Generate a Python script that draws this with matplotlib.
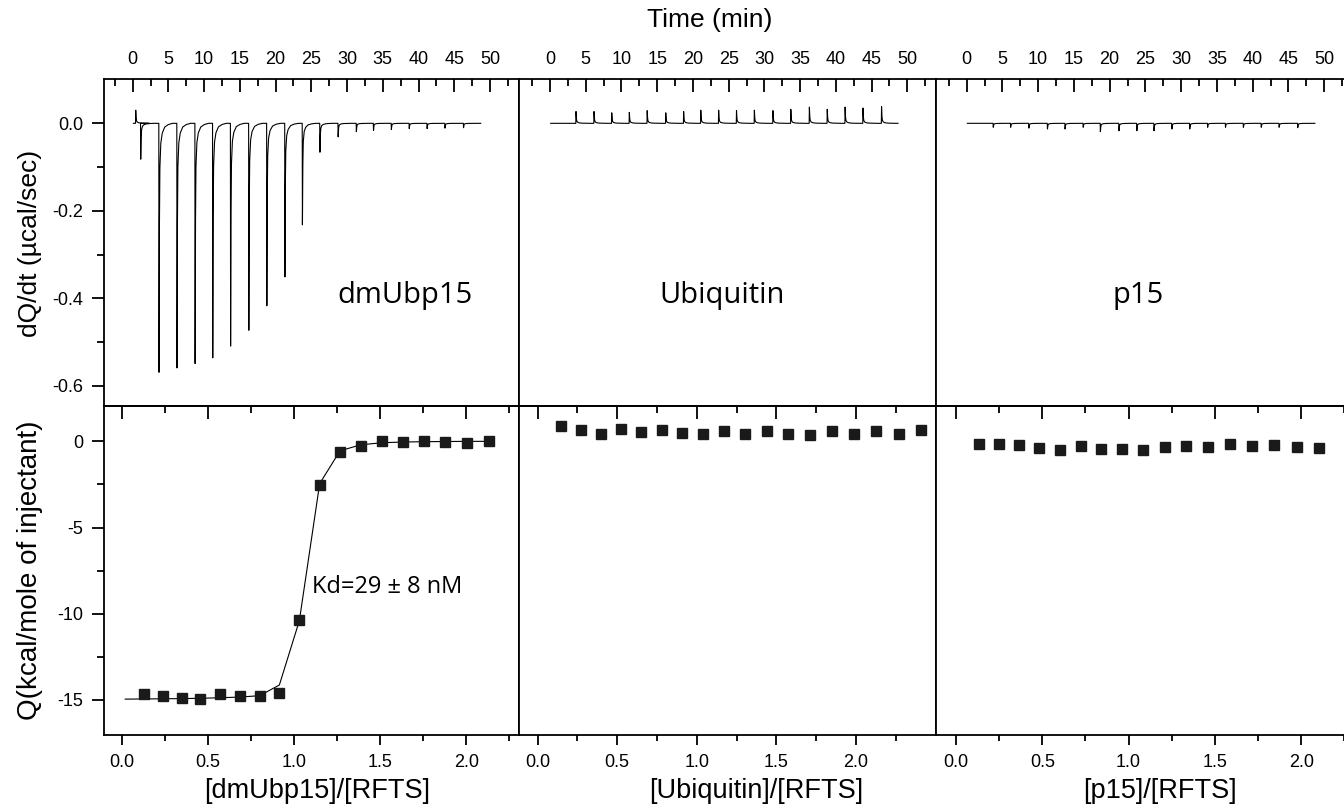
import numpy as np
import matplotlib
matplotlib.use("Agg")
import matplotlib.pyplot as plt

plt.rcParams['font.family'] = ['Liberation Sans', 'DejaVu Sans']
plt.rcParams['axes.unicode_minus'] = False

# --- raw thermograms (injection times in min, peak heights in ucal/sec) ---
dm_inj_t = [0.42, 1.12, 3.68, 6.2, 8.73, 11.2, 13.7, 16.25, 18.77, 21.3, 23.75,
            26.2, 28.75, 31.3, 33.7, 36.2, 38.7, 41.2, 43.7, 46.3]
dm_inj_h = [0.03, -0.082, -0.569, -0.559, -0.549, -0.536, -0.509, -0.473, -0.417,
            -0.351, -0.232, -0.066, -0.031, -0.019, -0.016, -0.014, -0.012,
            -0.012, -0.011, -0.010]

ub_inj_t = [3.64, 6.16, 8.64, 11.1, 13.6, 16.2, 18.7, 21.1, 23.6, 26.1, 28.6,
            31.2, 33.7, 36.3, 38.8, 41.3, 43.8, 46.4]
ub_inj_h = [0.027, 0.027, 0.024, 0.025, 0.029, 0.024, 0.027, 0.030, 0.030, 0.029,
            0.030, 0.029, 0.032, 0.037, 0.032, 0.037, 0.035, 0.038]

p15_inj_t = [3.72, 6.15, 8.7, 11.3, 13.76, 16.3, 18.7, 21.3, 23.8, 26.2, 28.7,
             31.2, 33.7, 36.2, 38.7, 41.2, 43.7, 46.3]
p15_inj_h = [-0.009, -0.009, -0.011, -0.013, -0.013, -0.009, -0.019, -0.017, -0.017,
             -0.017, -0.013, -0.013, -0.009, -0.009, -0.009, -0.009, -0.009, -0.010]

# peak profile: offset from injection (min) and fraction of peak height
peak_dt = [-0.03, 0.0, 0.06, 0.12, 0.25, 0.45, 0.8, 1.3, 1.9]
peak_frac = [0.0, 1.0, 0.4, 0.18, 0.08, 0.04, 0.015, 0.005, 0.0]

# --- integrated heats (kcal/mol of injectant) ---
dm_ratio = [0.129, 0.238, 0.348, 0.456, 0.571, 0.685, 0.801, 0.915, 1.031, 1.149,
            1.267, 1.387, 1.511, 1.633, 1.753, 1.878, 2.006, 2.130]
dm_heat = [-14.63, -14.79, -14.91, -14.96, -14.67, -14.76, -14.79, -14.58, -10.36,
           -2.51, -0.62, -0.27, 0.02, -0.04, 0.02, -0.04, -0.08, 0.0]
fit_ratio = [0.02, 0.129, 0.238, 0.348, 0.456, 0.571, 0.685, 0.801, 0.915, 1.031,
             1.149, 1.267, 1.387, 1.511, 1.633, 1.753, 1.878, 2.006, 2.130]
fit_heat = [-14.95, -14.94, -14.93, -14.92, -14.9, -14.87, -14.83, -14.75, -14.13,
            -10.4, -2.45, -0.55, -0.2, -0.08, -0.04, -0.02, -0.01, 0.0, 0.0]

ub_ratio = [0.144, 0.270, 0.396, 0.521, 0.649, 0.779, 0.906, 1.036, 1.168, 1.302,
            1.438, 1.572, 1.709, 1.847, 1.985, 2.125, 2.268, 2.410]
ub_heat = [0.89, 0.65, 0.41, 0.71, 0.52, 0.65, 0.48, 0.42, 0.58, 0.41, 0.60, 0.41,
           0.39, 0.62, 0.41, 0.60, 0.42, 0.64]

p15_ratio = [0.135, 0.249, 0.365, 0.483, 0.601, 0.723, 0.841, 0.963, 1.086, 1.210,
             1.333, 1.461, 1.587, 1.716, 1.843, 1.975, 2.106]
p15_heat = [-0.16, -0.16, -0.23, -0.36, -0.48, -0.25, -0.45, -0.42, -0.48, -0.33,
            -0.29, -0.33, -0.13, -0.29, -0.19, -0.31, -0.36]

names = ["dmUbp15", "Ubiquitin", "p15"]
xlabels = ["[dmUbp15]/[RFTS]", "[Ubiquitin]/[RFTS]", "[p15]/[RFTS]"]


def build_trace(inj_t, inj_h, t_start=0.1, t_end=48.7):
    t, y = [t_start], [0.0]
    for ti, hi in zip(inj_t, inj_h):
        for dt, f in zip(peak_dt, peak_frac):
            t.append(ti + dt)
            y.append(hi * f)
    t.append(t_end)
    y.append(0.0)
    return t, y


W, H = 1344, 807
fig = plt.figure(figsize=(W / 100, H / 100), dpi=100)

# panel geometry in pixels
lefts = [104, 519, 936]
widths = [415, 417, 415]
top_xlim = [(-4.02, 54.06), (-4.34, 54.02), (-4.29, 53.75)]
bot_xlim = [(-0.103, 2.306), (-0.117, 2.502), (-0.116, 2.289)]

traces = [(dm_inj_t, dm_inj_h), (ub_inj_t, ub_inj_h), (p15_inj_t, p15_inj_h)]
heats = [(dm_ratio, dm_heat), (ub_ratio, ub_heat), (p15_ratio, p15_heat)]
name_xy = [(405, 295), (722, 295), (1138, 295)]
xlab_x = [317, 756, 1160]

lw_ax = 1.3
tick_fs = 13
for i in range(3):
    l = lefts[i] / W
    w = widths[i] / W
    ax_t = fig.add_axes([l, (H - 406) / H, w, (406 - 79.3) / H])
    ax_b = fig.add_axes([l, (H - 735) / H, w, (735 - 406) / H])
    for ax in (ax_t, ax_b):
        for s in ax.spines.values():
            s.set_linewidth(lw_ax)

    # top: raw heat flow
    t, y = build_trace(*traces[i])
    ax_t.plot(t, y, color='black', lw=0.8)
    ax_t.set_xlim(*top_xlim[i])
    ax_t.set_ylim(-0.646, 0.1006)
    ax_t.xaxis.tick_top()
    ax_t.set_xticks(np.arange(0, 51, 5))
    ax_t.set_xticks(np.arange(-2.5, 54, 2.5), minor=True)
    ax_t.tick_params(axis='x', which='both', direction='in', top=True, bottom=False,
                     labeltop=True, labelbottom=False, width=lw_ax,
                     labelsize=tick_fs, pad=8)
    ax_t.tick_params(axis='x', which='major', length=9)
    ax_t.tick_params(axis='x', which='minor', length=5)

    # bottom: integrated heats
    rx, hy = heats[i]
    if i == 0:
        ax_b.plot(fit_ratio, fit_heat, color='black', lw=0.8, zorder=2)
    ax_b.plot(rx, hy, ls='none', marker='s', ms=7.5, color='#1a1a1a', zorder=3)
    ax_b.set_xlim(*bot_xlim[i])
    ax_b.set_ylim(-17.03, 2.05)
    ax_b.set_xticks([0.0, 0.5, 1.0, 1.5, 2.0])
    ax_b.set_xticklabels(["0.0", "0.5", "1.0", "1.5", "2.0"])
    ax_b.set_xticks(np.arange(0.25, 2.6, 0.5), minor=True)
    ax_b.tick_params(axis='x', which='both', direction='out', width=lw_ax,
                     labelsize=tick_fs, pad=7)
    ax_b.tick_params(axis='x', which='major', length=7)
    ax_b.tick_params(axis='x', which='minor', length=4)
    sec = ax_b.secondary_xaxis('top')
    sec.set_xticks([0.0, 0.5, 1.0, 1.5, 2.0])
    sec.set_xticks(np.arange(0.25, 2.6, 0.5), minor=True)
    sec.tick_params(axis='x', which='both', direction='in', labeltop=False, width=lw_ax)
    sec.tick_params(axis='x', which='major', length=9)
    sec.tick_params(axis='x', which='minor', length=5)
    sec.spines['top'].set_linewidth(lw_ax)

    if i == 0:
        ax_t.set_yticks([-0.6, -0.4, -0.2, 0.0])
        ax_t.set_yticklabels(["-0.6", "-0.4", "-0.2", "0.0"])
        ax_t.set_yticks(np.arange(-0.6, 0.06, 0.1), minor=True)
        ax_t.tick_params(axis='y', which='both', direction='out', width=lw_ax,
                         labelsize=tick_fs, pad=6)
        ax_t.tick_params(axis='y', which='major', length=9)
        ax_t.tick_params(axis='y', which='minor', length=5)
        ax_b.set_yticks([-15, -10, -5, 0])
        ax_b.set_yticks(np.arange(-15, 1, 2.5), minor=True)
        ax_b.tick_params(axis='y', which='both', direction='out', width=lw_ax,
                         labelsize=tick_fs, pad=6)
        ax_b.tick_params(axis='y', which='major', length=9)
        ax_b.tick_params(axis='y', which='minor', length=5)
    else:
        for ax in (ax_t, ax_b):
            ax.tick_params(axis='y', which='both', left=False, labelleft=False)

    fig.text(name_xy[i][0] / W, 1 - name_xy[i][1] / H, names[i], family='Open Sans',
             fontsize=21, ha='center', va='center')
    fig.text(xlab_x[i] / W, 1 - 791 / H, xlabels[i], fontsize=19.5, ha='center',
             va='center')

fig.text(311.7 / W, 1 - 586.7 / H, "Kd=29 \u00b1 8 nM", family='Open Sans',
         fontsize=17, ha='left', va='center')
fig.text(710 / W, 1 - 20 / H, "Time (min)", fontsize=19, ha='center', va='center')
fig.text(30 / W, 1 - 243 / H, "dQ/dt (\u00b5cal/sec)", fontsize=19, rotation=90,
         ha='center', va='center')
fig.text(30 / W, 1 - 570 / H, "Q(kcal/mole of injectant)", fontsize=20, rotation=90,
         ha='center', va='center')

fig.savefig("out.png", dpi=100)
